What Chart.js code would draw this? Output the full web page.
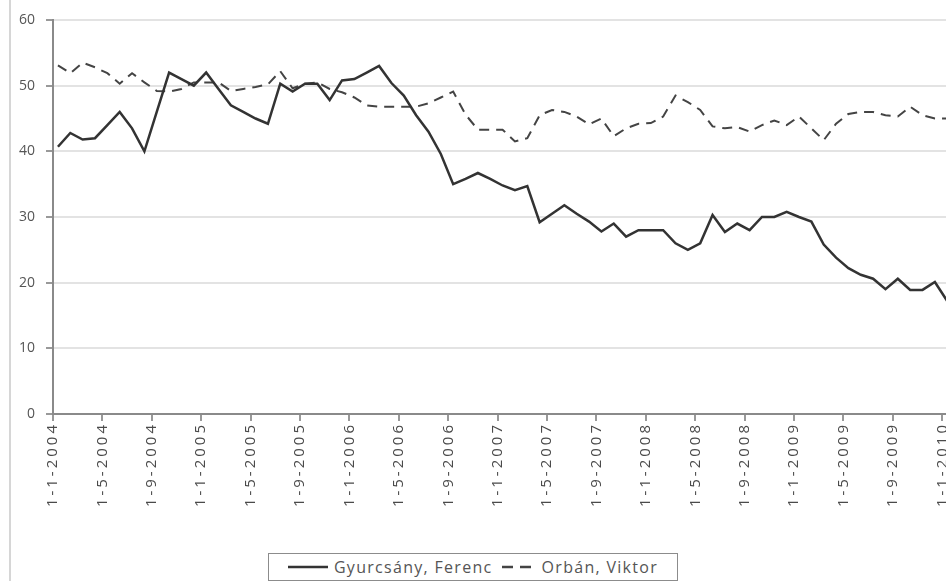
<!DOCTYPE html>
<html>
<head>
<meta charset="utf-8">
<script src="https://cdn.jsdelivr.net/npm/chart.js@4"></script>
<style>
  html, body { margin: 0; padding: 0; background: #fff; overflow: hidden; }
  body { width: 946px; height: 581px; position: relative; }
  #frame { position: absolute; left: 9px; top: 0; height: 581px; border-left: 2px solid #d6d6d6; }
  #wrap { position: absolute; left: 0; top: 0; width: 990px; height: 550px; }
  #legend {
    position: absolute; left: 268px; top: 553px; width: 408px; height: 26px;
    border: 1px solid #8c8c8c; background: #fff; box-sizing: content-box;
    font: 16px "Open Sans", sans-serif; letter-spacing: 1.3px; color: #555;
    display: flex; align-items: center; justify-content: center; white-space: nowrap;
  }
  #legend svg { margin-right: 6px; }
  #legend .gap { width: 9px; }
</style>
</head>
<body>
<div id="frame"></div>
<div id="wrap"><canvas id="chart" width="990" height="550"></canvas></div>
<div id="legend">
  <svg width="40" height="4"><line x1="0" y1="2" x2="40" y2="2" stroke="#333" stroke-width="2.5"/></svg>
  <span>Gyurcsány, Ferenc</span>
  <span class="gap"></span>
  <svg width="34" height="4"><line x1="0" y1="2" x2="34" y2="2" stroke="#444" stroke-width="2.5" stroke-dasharray="11 7"/></svg>
  <span>Orbán, Viktor</span>
</div>
<script>
// monthly polls, Jan 2004 .. Jan 2010
const gyurcsany = [
  40.7, 42.8, 41.8, 42, 44, 46, 43.5, 40, 46, 52, 51, 50,
  52, 49.5, 47, 46, 45, 44.2, 50.3, 49.1, 50.3, 50.3, 47.8, 50.8,
  51, 52, 53, 50.4, 48.5, 45.5, 43, 39.6, 35, 35.8, 36.7, 35.8,
  34.8, 34.1, 34.7, 29.2, 30.5, 31.8, 30.5, 29.3, 27.8, 29, 27, 28,
  28, 28, 26, 25, 26, 30.3, 27.7, 29, 28, 30, 30, 30.8,
  30, 29.3, 25.8, 23.8, 22.2, 21.2, 20.6, 19, 20.6, 18.9, 18.9, 20.1,
  17.2
];
const orban = [
  53.1, 51.9, 53.5, 52.8, 51.9, 50.3, 51.9, 50.5, 49.2, 49.1, 49.5, 50.5,
  50.5, 50.5, 49.2, 49.5, 49.8, 50.2, 52.2, 49.6, 50.3, 50.5, 49.5, 49,
  48.2, 47, 46.8, 46.8, 46.8, 46.8, 47.3, 48.2, 49.1, 45.6, 43.3, 43.3,
  43.3, 41.5, 42, 45.5, 46.3, 46, 45.3, 44.1, 45, 42.3, 43.5, 44.2,
  44.3, 45.3, 48.5, 47.5, 46.3, 43.8, 43.5, 43.7, 43, 44, 44.7, 44,
  45.3, 43.5, 41.7, 44.2, 45.7, 46, 46, 45.5, 45.3, 46.8, 45.5, 45,
  45
];
const tickLabels = [
  '1-1-2004', '1-5-2004', '1-9-2004', '1-1-2005', '1-5-2005', '1-9-2005',
  '1-1-2006', '1-5-2006', '1-9-2006', '1-1-2007', '1-5-2007', '1-9-2007',
  '1-1-2008', '1-5-2008', '1-9-2008', '1-1-2009', '1-5-2009', '1-9-2009',
  '1-1-2010'
];

// poll month position (months after 1-1-2004)
const pollMonth = gyurcsany.map((v, i) => i + 0.4);

const toPoints = (arr) => arr.map((v, i) => ({ x: pollMonth[i], y: v }));

// wider letter spacing on the rotated date labels
const spacedTicks = {
  id: 'spacedTicks',
  beforeDraw(chart) {
    const scale = chart.scales.x;
    if (scale._spaced) return;
    const orig = scale.drawLabels.bind(scale);
    scale.drawLabels = function (area) {
      chart.ctx.save();
      chart.ctx.letterSpacing = '3px';
      orig(area);
      chart.ctx.restore();
    };
    scale._spaced = true;
  }
};

new Chart(document.getElementById('chart').getContext('2d'), {
  type: 'line',
  data: {
    datasets: [{
      label: 'Gyurcsány, Ferenc',
      data: toPoints(gyurcsany),
      borderColor: '#333',
      borderWidth: 2.5,
      pointRadius: 0,
      tension: 0
    }, {
      label: 'Orbán, Viktor',
      data: toPoints(orban),
      borderColor: '#444',
      borderWidth: 2,
      borderDash: [10, 7],
      pointRadius: 0,
      tension: 0
    }]
  },
  options: {
    responsive: false,
    animation: false,
    devicePixelRatio: 1,
    layout: { padding: { top: 20, right: 44, bottom: 6, left: 0 } },
    plugins: {
      legend: { display: false },
      tooltip: { enabled: false }
    },
    scales: {
      x: {
        type: 'linear',
        min: 0,
        max: 72.3,
        afterFit: (s) => { s.height = 130; },
        grid: { drawOnChartArea: false, tickLength: 7, tickColor: '#999', lineWidth: 2 },
        border: { color: '#8a8a8a', width: 2 },
        ticks: {
          stepSize: 4,
          includeBounds: false,
          autoSkip: false,
          maxRotation: 90,
          minRotation: 90,
          padding: 1,
          color: '#4a4a4a',
          font: { family: 'Open Sans', size: 15 },
          callback: (v) => tickLabels[v / 4]
        }
      },
      y: {
        min: 0,
        max: 60,
        afterFit: (s) => { s.width = 53; },
        grid: { color: '#e3e3e3', lineWidth: 2, tickColor: '#999', tickLength: 7 },
        border: { color: '#8a8a8a', width: 2 },
        ticks: {
          stepSize: 10,
          padding: 11,
          color: '#555',
          font: { family: 'Open Sans', size: 14 }
        }
      }
    }
  },
  plugins: [spacedTicks]
});
</script>
</body>
</html>
